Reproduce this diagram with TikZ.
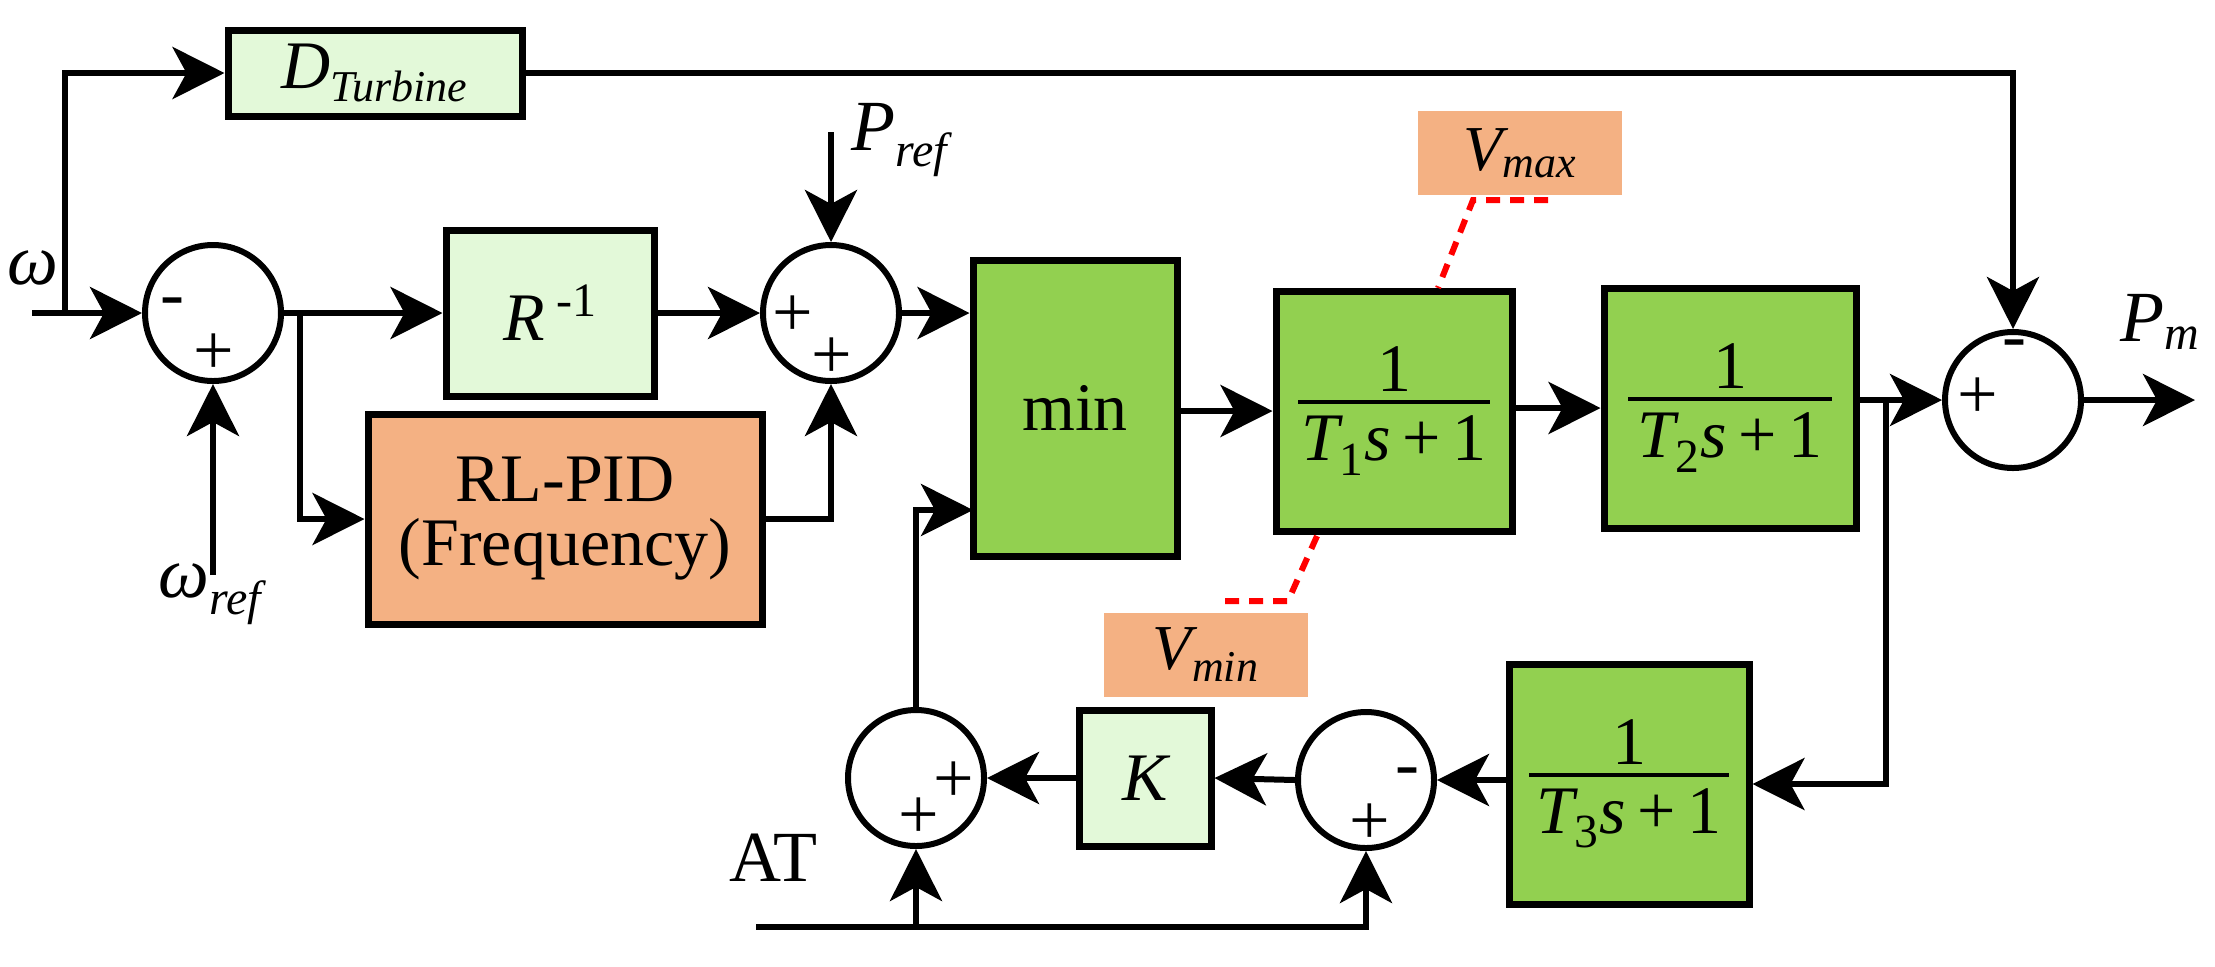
\documentclass[tikz,border=0pt]{standalone}
\usepackage{fontspec}
\setmainfont{Liberation Serif}
\newfontfamily\tms{Liberation Serif}
\usetikzlibrary{arrows.meta}
\definecolor{lg}{HTML}{E3F9D9}
\definecolor{gg}{HTML}{92D050}
\definecolor{og}{HTML}{F4B183}
\newcommand{\fs}[1]{\tms\fontsize{#1}{#1}\selectfont}
\newcommand{\frc}[2]{\vbox{\hbox to #1{\hfil 1\hfil}\vskip4pt\hrule height 2pt width #1\vskip6pt\hbox to #1{\hfil\itshape T\textsubscript{\upshape #2}s\,\upshape+\,1\hfil}}}
\begin{document}
\begin{tikzpicture}[x=0.5pt,y=-0.5pt,
  blk/.style={draw=black,line width=3.5pt,inner sep=0pt,font=\fs{34pt}},
  sm/.style={circle,draw=black,line width=3pt,minimum size=68pt,inner sep=0pt},
  sg/.style={font=\fs{36pt},inner sep=0pt},
  ar/.style={line width=3pt,-{Stealth[length=26pt,width=26pt,inset=7pt]}},
  lim/.style={red,line width=3pt,dash pattern=on 7pt off 5pt},
  lbl/.style={fill=og,inner sep=0pt,minimum width=102pt,minimum height=42pt,font=\fs{32pt}\itshape}]
\useasboundingbox (0,0) rectangle (2215,966);
\node[blk,fill=lg,minimum width=147pt,minimum height=43pt] (D) at (375,73) {\itshape D\textsubscript{\fs{22pt}\itshape Turbine}};
\node[blk,fill=lg,minimum width=104pt,minimum height=83pt] (R) at (550,313) {\itshape R\,\raisebox{12pt}{\upshape\fs{24pt}-1}};
\node[blk,fill=og,minimum width=197pt,minimum height=105pt,align=center] (RL) at (565,519) {RL-PID\\[-2pt](Frequency)};
\node[blk,fill=gg,minimum width=102pt,minimum height=148pt] (min) at (1075,408) {min};
\node[blk,fill=gg,minimum width=118pt,minimum height=120pt] (T1) at (1394,411) {\frc{96pt}{1}};
\node[blk,fill=gg,minimum width=126pt,minimum height=120pt] (T2) at (1730,408) {\frc{102pt}{2}};
\node[blk,fill=gg,minimum width=120pt,minimum height=120pt] (T3) at (1629,784) {\frc{100pt}{3}};
\node[blk,fill=lg,minimum width=66pt,minimum height=68pt] (K) at (1145,778) {\itshape K};
\node[lbl] (vmax) at (1520,153) {V\textsubscript{\fs{22pt}\itshape max}};
\node[lbl] (vmin) at (1206,655) {V\textsubscript{\fs{22pt}\itshape min}};
\node[sm] (c1) at (213,313) {};
\node[sm] (c2) at (831,313) {};
\node[sm] (c3) at (916,778) {};
\node[sm] (c4) at (1366,780) {};
\node[sm] (c5) at (2013,400) {};
\node[sg] at (172,308) {-};
\node[sg] at (214,354) {+};
\node[sg] at (793,316) {+};
\node[sg] at (832,358) {+};
\node[sg] at (919,818) {+};
\node[sg] at (954,782) {+};
\node[sg] at (1407,778) {-};
\node[sg] at (1370,824) {+};
\node[sg] at (1978,398) {+};
\node[sg] at (2014,350) {-};
\node[font=\fs{36pt}\itshape,inner sep=0pt] (w) at (33,268) {ω};
\node[font=\fs{36pt}\itshape,inner sep=0pt] (wr) at (210,594) {ω\textsubscript{\fs{24pt}\itshape ref}};
\node[font=\fs{36pt}\itshape,inner sep=0pt] (pr) at (900,140) {P\textsubscript{\fs{24pt}\itshape ref}};
\node[font=\fs{36pt}\itshape,inner sep=0pt] (pm) at (2160,322) {P\textsubscript{\fs{24pt}\itshape m}};
\node[font=\fs{36pt},inner sep=0pt] (AT) at (773,858) {AT};
\coordinate (w0) at (32,313);
\coordinate (wb) at (65,313);
\coordinate (wr0) at (213,575);
\coordinate (pr0) at (831,132);
\coordinate (br) at (300,313);
\coordinate (out) at (2195,400);
\coordinate (t2b) at (1886,400);
\coordinate (fb) at (973,510);
\coordinate (at0) at (756,927);
\coordinate (a1) at (1548,200);\coordinate (a2) at (1473,200);\coordinate (a3) at (1438,288);
\coordinate (b1) at (1317,536);\coordinate (b2) at (1288,601);\coordinate (b3) at (1224,601);
\draw[ar] (w0) -- (c1.west);
\draw[ar] (wb) |- (D.west);
\draw[ar] (wr0) -- (c1.south);
\draw[ar] (c1.east) -- (R.west);
\draw[ar] (br) |- (RL.west);
\draw[ar] (R.east) -- (c2.west);
\draw[ar] (pr0) -- (c2.north);
\draw[ar] (RL.east) -| (c2.south);
\draw[ar] (c2.east) -- (min.west|-c2.east);
\draw[ar] (min.east|-T1.west) -- (T1.west);
\draw[ar] (T1.east|-T2.west) -- (T2.west);
\draw[ar] (T2.east|-c5.west) -- (c5.west);
\draw[ar] (t2b) |- (T3.east);
\draw[ar] (c5.east) -- (out);
\draw[ar] (D.east) -| (c5.north);
\draw[ar] (T3.west|-c4.east) -- (c4.east);
\draw[ar] (c4.west) -- (K.east);
\draw[ar] (K.west) -- (c3.east);
\draw[ar] (c3.north) |- (fb);
\draw[ar] (at0) -| (c4.south);
\draw[ar] (c3.south|-at0) -- (c3.south);
\draw[lim] (a1) -- (a2) -- (a3);
\draw[lim] (b1) -- (b2) -- (b3);
\end{tikzpicture}
\end{document}
